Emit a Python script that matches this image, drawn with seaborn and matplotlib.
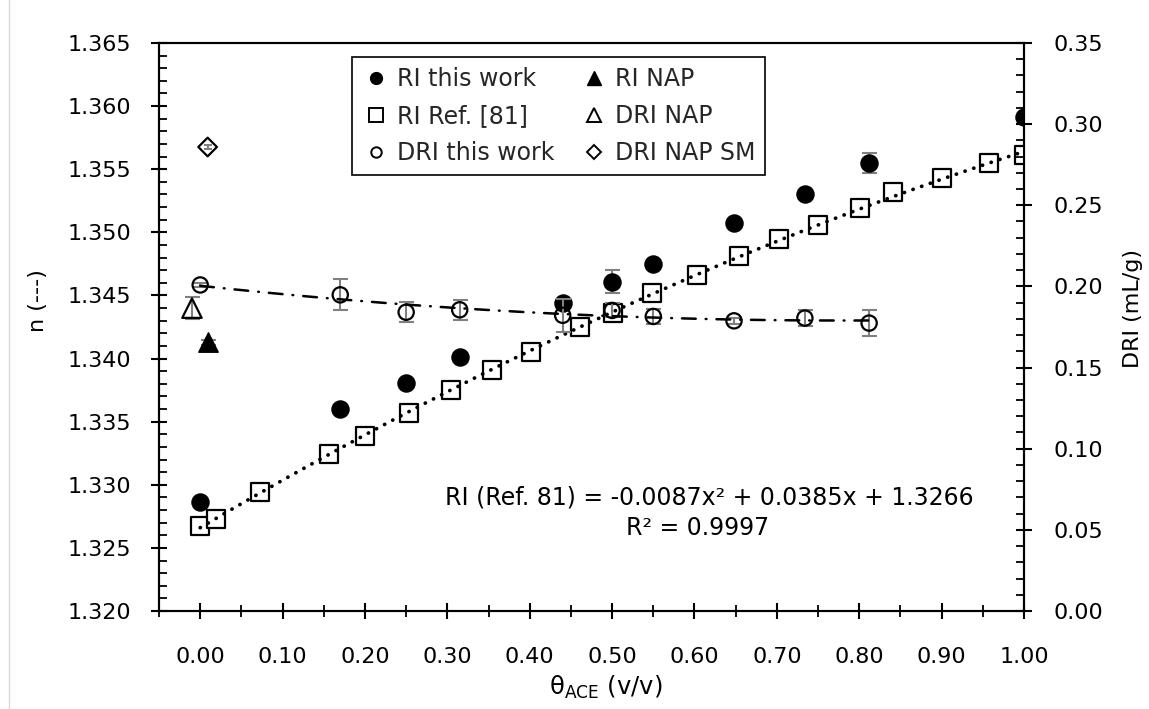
import numpy as np
import pandas as pd
import matplotlib
matplotlib.use("Agg")
import matplotlib.pyplot as plt
import seaborn as sns
from matplotlib.lines import Line2D
from matplotlib.ticker import MultipleLocator, FormatStrFormatter

# ---------------- data ----------------
ri_x = [0.00, 0.17, 0.25, 0.315, 0.44, 0.50, 0.55, 0.648, 0.734, 0.812, 1.00]
ri_n = [1.3286, 1.3360, 1.3381, 1.3401, 1.3444, 1.3461, 1.3475, 1.3507, 1.3530, 1.3555, 1.3591]
ri_err = [0.0002, 0.0002, 0.0002, 0.0002, 0.0003, 0.0009, 0.0003, 0.0002, 0.0002, 0.0008, 0.0002]

ref_x = [0.00, 0.019, 0.072, 0.156, 0.20, 0.254, 0.305, 0.354, 0.4015, 0.461, 0.501,
         0.549, 0.603, 0.654, 0.702, 0.750, 0.801, 0.841, 0.900, 0.958, 1.00]
ref_n = [1.3267, 1.3273, 1.3294, 1.3324, 1.3339, 1.3357, 1.3375, 1.3391, 1.3405, 1.3425, 1.3436,
         1.3452, 1.3466, 1.3481, 1.3495, 1.3506, 1.3519, 1.3532, 1.3543, 1.3555, 1.3561]

dri_x = [0.00, 0.17, 0.25, 0.315, 0.44, 0.50, 0.55, 0.648, 0.734, 0.812]
dri_v = [0.2009, 0.1948, 0.1841, 0.1856, 0.1822, 0.1852, 0.1815, 0.1788, 0.1805, 0.1774]
dri_err = [0.0010, 0.0095, 0.0061, 0.0063, 0.0100, 0.0043, 0.0046, 0.0020, 0.0051, 0.0082]

nap_ri_x = [0.009]
nap_ri_n = [1.3413]
nap_ri_err = [0.0002]

nap_dri_x = [-0.010]
nap_dri_v = [0.1866]
nap_dri_err = [0.0068]

napsm_x = [0.009]
napsm_v = [0.2859]
napsm_err = [0.0015]

ref_fit_coef = [-0.0087, 0.0385, 1.3266]

fit_text = "RI (Ref. 81) = -0.0087x\u00b2 + 0.0385x + 1.3266"
r2_text = "R\u00b2 = 0.9997"
legend_labels = ["RI this work", "RI Ref. [81]", "DRI this work", "RI NAP", "DRI NAP", "DRI NAP SM"]

# ---------------- style ----------------
sns.set_style("ticks")
plt.rcParams["font.family"] = ["DejaVu Sans"]
plt.rcParams["mathtext.default"] = "regular"
FS = 16
FS_TXT = 17

fig = plt.figure(figsize=(11.49, 7.09), dpi=100)
ax = fig.add_axes([0.1384, 0.1382, 0.7528, 0.8012])
ax2 = ax.twinx()

ERRC = "#808080"

# ---- left axis: RI ----
ax.errorbar(ri_x, ri_n, yerr=ri_err, fmt="none", ecolor=ERRC, elinewidth=1.5,
            capsize=5.4, capthick=1.5, zorder=2)
ax.errorbar(nap_ri_x, nap_ri_n, yerr=nap_ri_err, fmt="none", ecolor=ERRC, elinewidth=1.5,
            capsize=5.4, capthick=1.5, zorder=2)

sns.scatterplot(x=ref_x, y=ref_n, ax=ax, marker="s", s=13.0**2, legend=False, zorder=3)
pts = ax.collections[-1]
pts.set_facecolor("white"); pts.set_edgecolor("black"); pts.set_linewidth(1.6)

sns.scatterplot(x=ri_x, y=ri_n, ax=ax, marker="o", s=12.3**2, legend=False, zorder=4)
pts = ax.collections[-1]
pts.set_facecolor("black"); pts.set_edgecolor("black"); pts.set_linewidth(1.0)

sns.scatterplot(x=nap_ri_x, y=nap_ri_n, ax=ax, marker="^", s=14.0**2, legend=False, zorder=4)
pts = ax.collections[-1]
pts.set_facecolor("black"); pts.set_edgecolor("black"); pts.set_linewidth(1.0)

xf = np.linspace(min(ref_x), max(ref_x), 300)
sns.lineplot(x=xf, y=np.polyval(ref_fit_coef, xf), ax=ax, color="black", lw=2.7, zorder=5)
ln = ax.lines[-1]
ln.set_linestyle((0, (0.05, 2.4)))
ln.set_dash_capstyle("round")

# ---- right axis: DRI ----
ax2.errorbar(dri_x, dri_v, yerr=dri_err, fmt="none", ecolor=ERRC, elinewidth=1.5,
             capsize=5.4, capthick=1.5, zorder=2)
ax2.errorbar(nap_dri_x, nap_dri_v, yerr=nap_dri_err, fmt="none", ecolor=ERRC, elinewidth=1.5,
             capsize=5.4, capthick=1.5, zorder=2)
ax2.errorbar(napsm_x, napsm_v, yerr=napsm_err, fmt="none", ecolor=ERRC, elinewidth=1.5,
             capsize=3, capthick=1.5, zorder=2)

dcoef = np.polyfit(dri_x, dri_v, 2)
xd = np.linspace(min(dri_x), max(dri_x), 300)
sns.lineplot(x=xd, y=np.polyval(dcoef, xd), ax=ax2, color="black", lw=1.8, zorder=3)
ln = ax2.lines[-1]
ln.set_linestyle((0, (5.5, 4.0, 0.3, 4.0)))
ln.set_dash_capstyle("round")

sns.scatterplot(x=dri_x, y=dri_v, ax=ax2, marker="o", s=11.0**2, legend=False, zorder=4)
pts = ax2.collections[-1]
pts.set_facecolor("none"); pts.set_edgecolor("black"); pts.set_linewidth(1.6)

sns.scatterplot(x=nap_dri_x, y=nap_dri_v, ax=ax2, marker="^", s=14.0**2, legend=False, zorder=4)
pts = ax2.collections[-1]
pts.set_facecolor("none"); pts.set_edgecolor("black"); pts.set_linewidth(1.6)

sns.scatterplot(x=napsm_x, y=napsm_v, ax=ax2, marker="D", s=9.5**2, legend=False, zorder=4)
pts = ax2.collections[-1]
pts.set_facecolor("none"); pts.set_edgecolor("black"); pts.set_linewidth(1.6)

# ---------------- axes ----------------
ax.set_xlim(-0.05, 1.0)
ax.set_ylim(1.320, 1.365)
ax2.set_ylim(0.0, 0.35)

ax.xaxis.set_major_locator(MultipleLocator(0.1))
ax.xaxis.set_minor_locator(MultipleLocator(0.05))
ax.yaxis.set_major_locator(MultipleLocator(0.005))
ax.yaxis.set_minor_locator(MultipleLocator(0.001))
ax2.yaxis.set_major_locator(MultipleLocator(0.05))
ax2.yaxis.set_minor_locator(MultipleLocator(0.01))
ax.xaxis.set_major_formatter(FormatStrFormatter("%.2f"))
ax.yaxis.set_major_formatter(FormatStrFormatter("%.3f"))
ax2.yaxis.set_major_formatter(FormatStrFormatter("%.2f"))

for a in (ax, ax2):
    for sp in a.spines.values():
        sp.set_color("black")
        sp.set_linewidth(1.5)

ax.tick_params(axis="both", which="major", direction="inout", length=12, width=1.5,
               color="black", labelsize=FS, labelcolor="black")
ax.tick_params(axis="x", which="major", pad=20)
ax.tick_params(axis="y", which="major", pad=14)
ax.tick_params(axis="y", which="minor", direction="in", length=6, width=1.3, color="black")
ax.tick_params(axis="x", which="minor", direction="inout", length=8, width=1.3, color="black")
ax2.tick_params(axis="y", which="major", direction="inout", length=12, width=1.5,
                color="black", labelsize=FS, labelcolor="black", pad=15)
ax2.tick_params(axis="y", which="minor", direction="in", length=6, width=1.3, color="black")

ax.set_xlabel("\u03b8$_{\\mathregular{ACE}}$ (v/v)", fontsize=17.5, color="black")
ax.set_ylabel("n (---)", fontsize=FS, color="black")
ax2.set_ylabel("DRI (mL/g)", fontsize=FS, color="black")
ax.xaxis.set_label_coords(0.517, -0.111)
ax.yaxis.set_label_coords(-0.128, 0.546)
ax2.yaxis.set_label_coords(1.114, 0.532)

ax2.text(0.636, 0.2007, fit_text, transform=ax.transAxes, ha="center", va="center",
         fontsize=FS_TXT, color="black")
ax2.text(0.6225, 0.146, r2_text, transform=ax.transAxes, ha="center", va="center",
         fontsize=FS_TXT, color="black")

# ---------------- legend ----------------
handles = [
    Line2D([], [], ls="none", marker="o", ms=8.5, mfc="black", mec="black"),
    Line2D([], [], ls="none", marker="s", ms=10, mfc="white", mec="black", mew=1.4),
    Line2D([], [], ls="none", marker="o", ms=7.5, mfc="white", mec="black", mew=1.4),
    Line2D([], [], ls="none", marker="^", ms=10, mfc="black", mec="black"),
    Line2D([], [], ls="none", marker="^", ms=10, mfc="white", mec="black", mew=1.4),
    Line2D([], [], ls="none", marker="D", ms=7.5, mfc="white", mec="black", mew=1.4),
]
leg = ax2.legend(handles, legend_labels, ncol=2, loc="upper left",
                 bbox_to_anchor=(0.2228, 0.9748), borderaxespad=0, fontsize=FS_TXT,
                 frameon=True, fancybox=False, edgecolor="black", framealpha=1,
                 handlelength=1.2, handletextpad=0.28, columnspacing=1.1,
                 labelspacing=0.55, borderpad=0.42)
leg.get_frame().set_linewidth(1.2)
leg.set_zorder(10)

fig.add_artist(Line2D([8.5 / 1149, 8.5 / 1149], [0, 1], color="#d9d9d9", lw=1.0))

fig.savefig("out.png", dpi=100)
